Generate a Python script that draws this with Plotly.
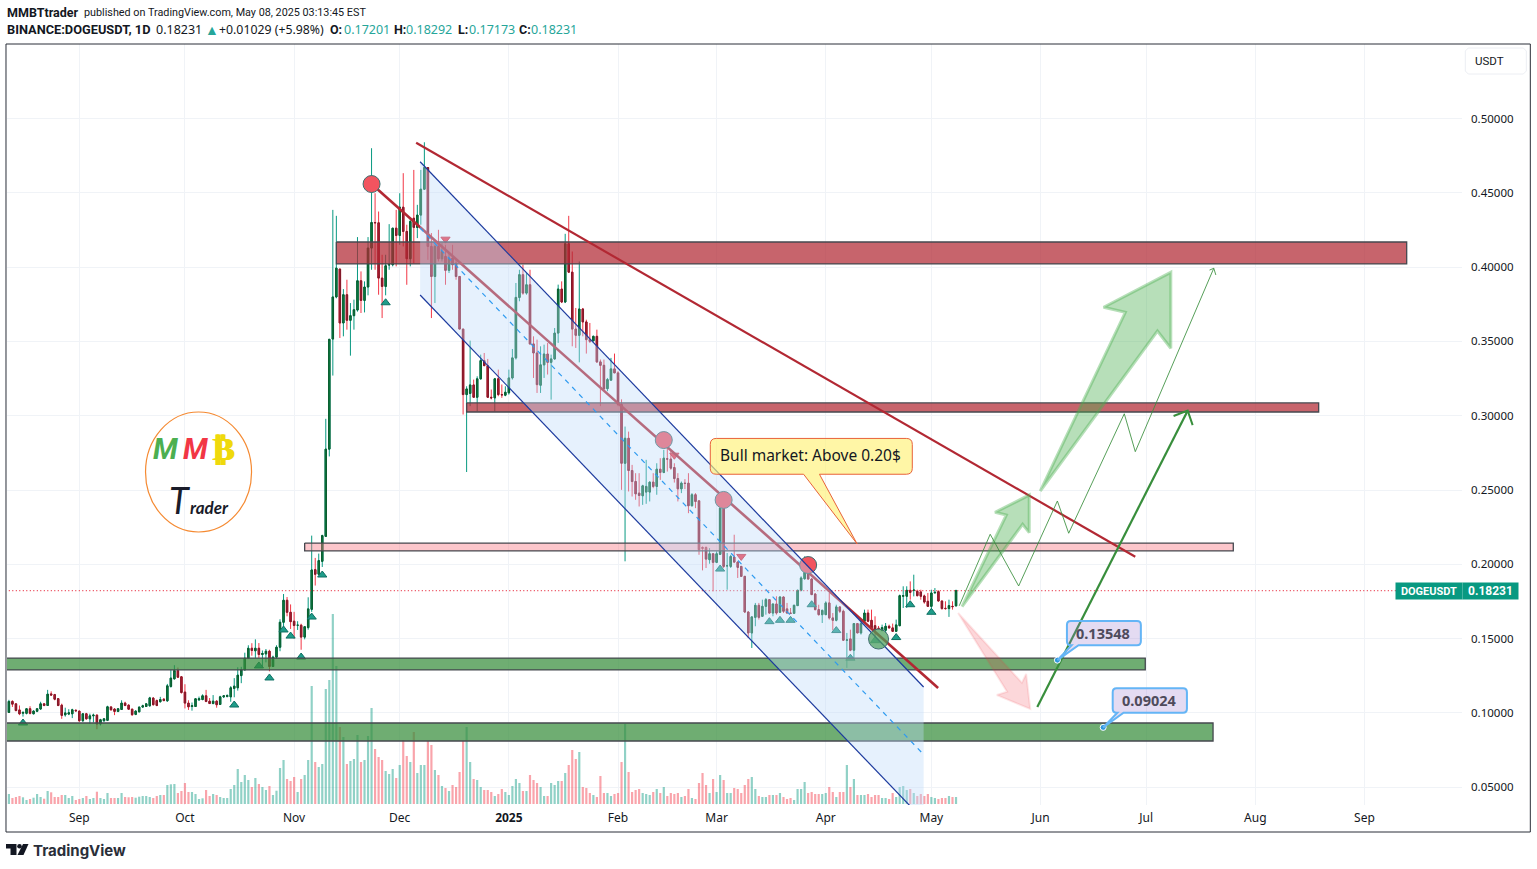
import pandas as pd
import plotly.graph_objects as go

# DOGEUSDT daily candles
start_day = '2024-08-12'
opens = [
    .1003,.1077,.1061,.1020,.0998,.0997,.1028,.0994,.1011,.1026,
    .1061,.1050,.1128,.1123,.1096,.1052,.0987,.0992,.0994,.1018,
    .1012,.0947,.0994,.0960,.0980,.0985,.0925,.0947,.0950,.1040,
    .1026,.1010,.1023,.1066,.1052,.1025,.0990,.1007,.1039,.1043,
    .1048,.1100,.1083,.1075,.1092,.1081,.1178,.1229,.1285,.1243,
    .1140,.1066,.1043,.1043,.1088,.1090,.1115,.1079,.1063,.1079,
    .1057,.1108,.1110,.1108,.1165,.1169,.1251,.1290,.1368,.1435,
    .1418,.1435,.1393,.1397,.1415,.1312,.1375,.1442,.1610,.1758,
    .1677,.1617,.1590,.1590,.1510,.1574,.1697,.1964,.1933,.2020,
    .2188,.2775,.3516,.3799,.3987,.3624,.3814,.3642,.3673,.3711,
    .3908,.3776,.3866,.4128,.4300,.4298,.3926,.3870,.4015,.4016,
    .4262,.4213,.4403,.4240,.4056,.4329,.4267,.4350,.4524,.4670,
    .4139,.3937,.4139,.4056,.4072,.3978,.4061,.4027,.3937,.3583,
    .3142,.3150,.3207,.3124,.3248,.3371,.3337,.3124,.3120,.3248,
    .3142,.3138,.3154,.3254,.3389,.3796,.3949,.3825,.3881,.3483,
    .3422,.3205,.3342,.3415,.3359,.3382,.3556,.3852,.3765,.4157,
    .3966,.3583,.3541,.3718,.3631,.3512,.3504,.3534,.3362,.3339,
    .3182,.3239,.3315,.3288,.3075,.2680,.2848,.2631,.2557,.2479,
    .2461,.2486,.2486,.2553,.2524,.2640,.2618,.2710,.2708,.2651,
    .2577,.2508,.2546,.2546,.2394,.2468,.2427,.2113,.2113,.2031,
    .2071,.2013,.2067,.2378,.1990,.1986,.2049,.2015,.1986,.1919,
    .1679,.1538,.1643,.1724,.1650,.1717,.1762,.1672,.1733,.1677,
    .1780,.1700,.1672,.1670,.1722,.1825,.1903,.1946,.1901,.1800,
    .1695,.1661,.1661,.1740,.1639,.1623,.1713,.1684,.1489,.1498,
    .1422,.1601,.1538,.1617,.1672,.1623,.1587,.1570,.1556,.1556,
    .1583,.1572,.1549,.1587,.1785,.1785,.1825,.1825,.1818,.1814,
    .1787,.1751,.1717,.1807,.1816,.1753,.1704,.1702,.1717,.17201,
]
closes = [
    .1077,.1059,.1016,.0994,.1003,.1028,.0997,.1012,.1028,.1061,
    .1050,.1126,.1120,.1092,.1050,.0983,.1000,.1001,.1021,.1014,
    .0947,.0994,.0960,.0980,.0985,.0925,.0954,.0960,.1041,.1021,
    .1010,.1028,.1066,.1050,.1025,.0988,.1012,.1039,.1048,.1061,
    .1101,.1055,.1050,.1090,.1083,.1182,.1234,.1285,.1240,.1137,
    .1066,.1041,.1048,.1095,.1095,.1115,.1077,.1063,.1079,.1055,
    .1108,.1115,.1117,.1169,.1180,.1254,.1290,.1368,.1435,.1420,
    .1435,.1393,.1400,.1415,.1312,.1375,.1442,.1610,.1758,.1677,
    .1614,.1588,.1590,.1510,.1580,.1700,.1962,.1933,.2025,.2193,
    .2775,.3514,.3799,.3993,.3624,.3814,.3642,.3673,.3713,.3908,
    .3776,.3866,.4128,.4300,.4298,.3926,.3870,.4009,.4016,.4262,
    .4213,.4403,.4240,.4056,.4307,.4267,.4350,.4524,.4670,.4139,
    .3937,.4139,.4056,.4105,.3978,.4061,.4016,.3937,.3583,.3142,
    .3180,.3207,.3124,.3248,.3371,.3337,.3124,.3120,.3248,.3142,
    .3140,.3158,.3254,.3389,.3796,.3949,.3825,.3881,.3483,.3422,
    .3209,.3342,.3415,.3359,.3382,.3556,.3852,.3765,.4157,.3966,
    .3583,.3541,.3718,.3631,.3512,.3500,.3534,.3362,.3339,.3180,
    .3243,.3315,.3288,.3075,.2680,.2848,.2631,.2557,.2474,.2463,
    .2528,.2524,.2553,.2524,.2640,.2618,.2714,.2708,.2647,.2577,
    .2508,.2546,.2544,.2394,.2468,.2423,.2098,.2108,.2035,.2071,
    .2013,.2071,.2378,.1986,.1990,.2053,.2015,.1979,.1919,.1679,
    .1538,.1646,.1724,.1643,.1717,.1762,.1672,.1733,.1672,.1780,
    .1684,.1672,.1670,.1724,.1825,.1908,.1946,.1901,.1796,.1695,
    .1661,.1690,.1740,.1639,.1623,.1713,.1684,.1489,.1491,.1422,
    .1601,.1538,.1601,.1672,.1617,.1572,.1560,.1568,.1574,.1583,
    .1572,.1549,.1592,.1789,.1789,.1825,.1811,.1826,.1789,.1785,
    .1746,.1717,.1807,.1811,.1753,.1702,.1702,.1722,.1715,.18231,
]
highs = [
    .1088,.1085,.1063,.1050,.1010,.1030,.1045,.1018,.1030,.1075,
    .1065,.1155,.1145,.1128,.1100,.1062,.1035,.1025,.1028,.1022,
    .1015,.0998,.1000,.0995,.0995,.0990,.0960,.0965,.1048,.1045,
    .1032,.1032,.1085,.1075,.1058,.1028,.1018,.1042,.1055,.1066,
    .1108,.1105,.1090,.1108,.1100,.1195,.1290,.1321,.1305,.1248,
    .1193,.1085,.1070,.1100,.1110,.1125,.1155,.1100,.1120,.1085,
    .1115,.1118,.1125,.1180,.1234,.1307,.1310,.1405,.1455,.1469,
    .1495,.1470,.1420,.1430,.1425,.1385,.1455,.1630,.1800,.1780,
    .1730,.1680,.1617,.1600,.1585,.1778,.2193,.2043,.2072,.2199,
    .2979,.3515,.4385,.4345,.3987,.3852,.3915,.3758,.3781,.4202,
    .3971,.3904,.4202,.4800,.4497,.4374,.4083,.4083,.4289,.4262,
    .4385,.4497,.4632,.4285,.4329,.4654,.4419,.4654,.4840,.4670,
    .4229,.4150,.4251,.4161,.4150,.4094,.4150,.4061,.3937,.3583,
    .3198,.3505,.3243,.3265,.3411,.3422,.3382,.3176,.3254,.3310,
    .3210,.3198,.3310,.3449,.3893,.3982,.4016,.3960,.3982,.3534,
    .3512,.3467,.3478,.3489,.3411,.3590,.3882,.3904,.4224,.4345,
    .4105,.3725,.4038,.3725,.3646,.3624,.3539,.3579,.3378,.3378,
    .3254,.3389,.3418,.3299,.3110,.2927,.2893,.2669,.2613,.2613,
    .2535,.2703,.2557,.2613,.2680,.2714,.2770,.2781,.2770,.2680,
    .2613,.2557,.2573,.2613,.2479,.2479,.2427,.2121,.2121,.2109,
    .2076,.2087,.2378,.2378,.2076,.2064,.2199,.2020,.1986,.1919,
    .1684,.1650,.1740,.1740,.1762,.1773,.1766,.1735,.1785,.1784,
    .1784,.1740,.1706,.1728,.1829,.1919,.2053,.2042,.1908,.1807,
    .1728,.1695,.1751,.1807,.1672,.1728,.1717,.1695,.1538,.1560,
    .1605,.1605,.1628,.1695,.1695,.1695,.1650,.1585,.1594,.1605,
    .1594,.1601,.1628,.1796,.1852,.1852,.1885,.1930,.1829,.1829,
    .1796,.1807,.1829,.1840,.1825,.1757,.1751,.1762,.1751,.18292,
]
lows = [
    .1000,.1040,.1010,.0985,.0975,.0990,.0990,.0990,.1005,.1020,
    .1045,.1050,.1115,.1085,.1045,.0960,.0975,.0985,.0965,.1010,
    .0940,.0940,.0955,.0925,.0935,.0890,.0915,.0940,.0945,.1015,
    .0985,.1005,.1020,.1045,.1020,.0980,.0985,.1005,.1035,.1040,
    .1042,.1050,.1045,.1070,.1078,.1075,.1170,.1225,.1235,.1130,
    .1030,.1020,.1015,.1040,.1080,.1085,.1072,.1060,.1058,.1035,
    .1055,.1100,.1105,.1075,.1105,.1150,.1200,.1285,.1365,.1385,
    .1370,.1370,.1310,.1340,.1280,.1310,.1365,.1415,.1560,.1650,
    .1565,.1500,.1558,.1425,.1495,.1560,.1680,.1857,.1930,.1982,
    .2184,.2726,.3270,.3790,.3523,.3534,.3579,.3404,.3579,.3700,
    .3691,.3695,.3810,.3982,.3982,.3814,.3657,.3810,.3982,.4005,
    .4005,.4150,.4139,.3881,.4005,.4027,.4195,.4285,.4520,.4049,
    .3657,.3758,.4038,.4038,.3881,.3960,.3982,.3915,.3583,.3008,
    .2621,.3064,.3120,.3030,.3243,.3333,.3120,.3110,.3030,.3131,
    .3120,.3131,.3142,.3243,.3378,.3770,.3814,.3814,.3478,.3254,
    .3153,.3153,.3254,.3277,.3108,.3377,.3490,.3758,.3758,.3960,
    .3467,.3456,.3359,.3534,.3418,.3489,.3500,.3355,.3064,.3176,
    .3165,.3239,.3288,.3064,.2501,.2020,.2490,.2456,.2434,.2389,
    .2400,.2407,.2423,.2512,.2468,.2568,.2613,.2624,.2636,.2550,
    .2423,.2479,.2506,.2344,.2389,.2378,.2064,.1959,.1975,.2004,
    .1818,.2008,.2064,.1975,.1829,.1975,.2008,.1908,.1919,.1672,
    .1504,.1437,.1583,.1628,.1650,.1661,.1668,.1650,.1661,.1672,
    .1672,.1668,.1668,.1668,.1721,.1818,.1896,.1896,.1796,.1690,
    .1655,.1605,.1661,.1628,.1556,.1616,.1672,.1489,.1303,.1415,
    .1359,.1538,.1527,.1610,.1610,.1560,.1493,.1560,.1549,.1538,
    .1567,.1545,.1545,.1583,.1706,.1706,.1762,.1784,.1784,.1762,
    .1735,.1713,.1672,.1807,.1749,.1695,.1695,.1646,.1695,.17173,
]
# volume in billions of DOGE
volumes = [
    1.0,.6,.7,.8,.67,.4,.5,.63,1.0,.7,
    .53,1.3,1.17,.7,.7,.9,.9,.6,.8,.4,
    .5,.6,.8,.5,.6,1.23,.6,.5,1.1,.6,
    .6,.6,1.1,.7,.67,.7,.63,.73,.8,.8,
    .7,.6,.8,.9,.9,1.9,1.97,2.0,1.1,1.3,
    2.1,1.2,1.2,1.0,.5,.57,1.4,.8,1.0,.9,
    .7,.6,.6,1.5,1.9,3.5,2.2,2.9,2.4,1.7,
    2.6,2.0,1.7,1.4,1.8,.9,1.33,3.6,4.4,2.5,
    2.3,2.7,1.2,2.5,2.9,4.4,11.8,4.2,3.7,4.0,
    11.5,12.4,19.0,13.8,7.7,6.7,4.0,4.3,4.5,6.9,
    4.2,4.4,6.8,9.6,5.5,4.7,4.4,3.3,3.0,3.5,
    2.6,3.9,6.4,4.8,4.2,7.2,3.1,3.9,3.9,6.3,
    5.9,3.4,2.9,1.8,1.6,1.3,1.9,1.7,3.2,6.3,
    7.7,4.2,2.5,2.4,1.7,1.4,1.4,1.2,.8,1.0,
    1.5,1.2,.9,1.8,2.5,2.1,1.3,1.3,2.9,2.4,
    2.1,1.7,.8,.8,2.1,1.9,2.3,2.3,3.1,3.9,
    5.4,4.5,5.2,1.7,1.6,1.1,.9,.7,2.8,1.1,
    1.1,.8,1.0,1.1,4.2,8.0,3.2,1.2,1.4,1.5,
    1.1,1.0,.9,1.2,1.5,1.1,1.7,.8,1.1,1.0,
    1.1,.7,.8,1.5,.6,.5,2.1,3.1,1.9,1.1,
    2.5,1.2,2.9,2.4,1.1,1.1,1.6,1.5,1.1,1.9,
    2.5,2.7,1.5,.8,.7,.7,.9,.9,.9,1.1,
    .7,.5,.6,.4,1.5,1.5,2.2,1.1,1.2,1.0,
    1.0,1.0,1.1,1.7,1.2,.7,1.2,1.2,3.9,1.7,
    2.5,.9,.9,.9,1.0,.7,.9,.9,.6,.6,
    .5,1.1,.7,1.7,1.8,1.4,1.5,1.1,.8,1.0,
    .8,1.0,.7,.6,.5,.6,.6,.8,.7,.7,
]

# signal markers
signal_up_dates = ['2024-08-16','2024-10-15','2024-10-22','2024-10-25','2024-10-29','2024-10-31',
                   '2024-11-03','2024-11-06','2024-11-09','2024-11-27','2025-03-02','2025-03-16',
                   '2025-03-19','2025-03-22','2025-03-28','2025-04-04','2025-04-08','2025-04-15',
                   '2025-04-21','2025-04-25','2025-05-01']
signal_up_prices = [.0932,.1053,.1316,.1235,.1558,.1517,.1376,.1645,.1928,.3760,.1968,.1614,
                    .1623,.1623,.1728,.1554,.1368,.1486,.1507,.1728,.1677]
signal_down_dates = ['2024-12-14','2025-02-17','2025-03-08']
signal_down_prices = [.4188,.2734,.2053]

# circled touch points on the falling trend
touch_dates = ['2024-11-23','2025-02-14','2025-03-03','2025-03-27']
touch_prices = [.4559,.2836,.2433,.1995]
breakout_date = ['2025-04-16']
breakout_price = [.1497]

# horizontal zones: start, end, top, bottom
red_zone_a = ['2024-11-13','2025-09-13',.4169,.4021]
red_zone_b = ['2024-12-20','2025-08-19',.3086,.3025]
pink_zone = ['2024-11-04','2025-07-25 18:00',.2143,.2090]
green_zone_a = ['2024-08-01','2025-06-30 18:00',.1369,.1289]
green_zone_b = ['2024-08-01','2025-07-20',.0932,.0811]

# falling channel
channel_top_dates = ['2024-12-06 19:00','2025-04-28 19:00']
channel_top_prices = [.4709,.1174]
channel_mid_prices = [.4263,.0720]
channel_low_prices = [.3812,.0279]

# trend lines
trend_outer_dates = ['2024-12-05 16:00','2025-06-27 22:00']
trend_outer_prices = [.4837,.2051]
trend_inner_dates = ['2024-11-23','2025-05-02 22:00']
trend_inner_prices = [.4559,.1168]

# projected path and arrows
path_dates = ['2025-05-08 22:00','2025-05-17 17:00','2025-05-25 19:00','2025-06-05 19:00',
              '2025-06-09','2025-06-24 19:00','2025-06-27 22:00','2025-07-20 05:00']
path_prices = [.1721,.2202,.1854,.2426,.2209,.3013,.2758,.3992]
path_head_dates = ['2025-07-19','2025-07-20 05:00','2025-07-20 19:00']
path_head_prices = [.3980,.3992,.3947]
up_line_dates = ['2025-05-31 02:00','2025-07-12 19:00']
up_line_prices = [.1040,.3034]
up_head_dates = ['2025-07-08 19:00','2025-07-12 19:00','2025-07-14 05:00']
up_head_prices = [.2998,.3034,.2937]
small_arrow_dates = ['2025-05-09 17:00','2025-05-22 07:00','2025-05-19 02:00','2025-05-28 19:00',
                     '2025-05-28 19:00','2025-05-26 22:00','2025-05-09 17:00']
small_arrow_prices = [.1715,.2332,.2350,.2466,.2213,.2269,.1715]
big_arrow_dates = ['2025-05-31 22:00','2025-06-25 02:00','2025-06-18 22:00','2025-07-08',
                   '2025-07-08','2025-07-04 05:00','2025-05-31 22:00']
big_arrow_prices = [.2493,.3696,.3730,.3965,.3454,.3570,.2493]
down_arrow_dates = ['2025-05-08 14:00','2025-05-26 17:00','2025-05-27 22:00','2025-05-29 02:00',
                    '2025-05-19 14:00','2025-05-22 12:00','2025-05-08 14:00']
down_arrow_prices = [.1672,.1203,.1262,.1026,.1120,.1143,.1672]

# price labels
label_values = [.13548,.09024]
label_dates = ['2025-06-05 19:00','2025-06-18 19:00']

month_ticks = ['2024-09-01','2024-10-01','2024-11-01','2024-12-01','2025-01-01','2025-02-01','2025-03-01',
               '2025-04-01','2025-05-01','2025-06-01','2025-07-01','2025-08-01','2025-09-01']
month_labels = ['Sep','Oct','Nov','Dec','<b>2025</b>','Feb','Mar','Apr','May','Jun','Jul','Aug','Sep']
price_ticks = [.05,.10,.15,.20,.25,.30,.35,.40,.45,.50]

FONT = 'Noto Sans'
HEAD = 'Roboto'
TEXT = '#131722'
TEAL = '#089981'
UP_BODY = '#0b8648'
UP_EDGE = '#0b5c2e'
DOWN_BODY = '#cc1a30'
DOWN_EDGE = '#7d1a2a'

# page position of the chart pane, used only for header text and frame
PANE_L, PANE_R, PANE_T, PANE_B = 7, 1461.7, 44, 805

def px(x):
    return (x - PANE_L) / (PANE_R - PANE_L)

def py(y):
    return (PANE_B - y) / (PANE_B - PANE_T)

days = pd.date_range(start_day, periods=len(closes), freq='D')
fig = go.Figure()

# volume sits on the lower overlay so the drawings stay on top of it
fig.add_trace(go.Bar(x=days, y=volumes, width=0.62 * 86400000, yaxis='y',
                     marker=dict(color=['rgba(8,153,129,0.45)' if c >= o else 'rgba(242,54,69,0.45)'
                                        for o, c in zip(opens, closes)], line=dict(width=0))))

# wicks first, then bodies with their darker border
fig.add_trace(go.Candlestick(x=days, open=opens, high=highs, low=lows, close=closes, yaxis='y2',
                             increasing=dict(line=dict(color=TEAL, width=1), fillcolor=UP_BODY),
                             decreasing=dict(line=dict(color='#f23645', width=1), fillcolor=DOWN_BODY),
                             whiskerwidth=0))
body_top = [max(o, c) for o, c in zip(opens, closes)]
body_low = [min(o, c) for o, c in zip(opens, closes)]
fig.add_trace(go.Candlestick(x=days, open=opens, high=body_top, low=body_low, close=closes, yaxis='y2',
                             increasing=dict(line=dict(color=UP_EDGE, width=1), fillcolor=UP_BODY),
                             decreasing=dict(line=dict(color=DOWN_EDGE, width=1), fillcolor=DOWN_BODY),
                             whiskerwidth=0))

def line(x, y, color, width=1, dash='solid'):
    fig.add_trace(go.Scatter(x=x, y=y, mode='lines', yaxis='y2', hoverinfo='skip',
                             line=dict(color=color, width=width, dash=dash)))

def polygon(x, y, fill, edge, width=1):
    fig.add_trace(go.Scatter(x=x, y=y, mode='lines', yaxis='y2', fill='toself', fillcolor=fill,
                             hoverinfo='skip', line=dict(color=edge, width=width)))

def zone(z, fill, edge='#45484f', width=1.3):
    x0, x1, top, low = z
    polygon([x0, x1, x1, x0, x0], [top, top, low, low, top], fill, edge, width)

fig.add_trace(go.Scatter(x=signal_up_dates, y=signal_up_prices, mode='markers', yaxis='y2',
                         marker=dict(symbol='triangle-up', size=8, color='#1f9d8a',
                                     line=dict(color='#0e6f62', width=1))))
fig.add_trace(go.Scatter(x=signal_down_dates, y=signal_down_prices, mode='markers', yaxis='y2',
                         marker=dict(symbol='triangle-down', size=8, color='#f23645',
                                     line=dict(color='#d02a3a', width=1))))

last_price = closes[-1]
line([days[0] - pd.Timedelta(days=5), '2025-10-10'], [last_price, last_price], '#e8394a', 1.2, '1px,2.5px')

zone(red_zone_a, 'rgba(178,40,51,0.72)')
zone(red_zone_b, 'rgba(178,40,51,0.72)')
zone(pink_zone, 'rgba(247,120,130,0.42)')
zone(green_zone_a, 'rgba(56,142,60,0.72)')
zone(green_zone_b, 'rgba(56,142,60,0.72)')

# the inner trend and touch circles sit under the channel fill
line(trend_inner_dates, trend_inner_prices, '#b22833', 2.6)
fig.add_trace(go.Scatter(x=touch_dates, y=touch_prices, mode='markers', yaxis='y2',
                         marker=dict(symbol='circle', size=17, color='#f2545f',
                                     line=dict(color='#3f6f70', width=1))))

channel_dates = channel_top_dates + channel_top_dates[::-1] + channel_top_dates[:1]
channel_prices = channel_top_prices + channel_low_prices[::-1] + channel_top_prices[:1]
fig.add_trace(go.Scatter(x=channel_dates, y=channel_prices, mode='lines', yaxis='y2', fill='toself',
                         fillcolor='rgba(189,218,250,0.38)', line=dict(width=0), hoverinfo='skip'))
line(channel_top_dates, channel_top_prices, '#1c3a9e', 1.2)
line(channel_top_dates, channel_low_prices, '#1c3a9e', 1.2)
line(channel_top_dates, channel_mid_prices, '#2f9bf0', 1.2, '5px,5px')

line(trend_outer_dates, trend_outer_prices, '#b22833', 2.2)

fig.add_trace(go.Scatter(x=breakout_date, y=breakout_price, mode='markers', yaxis='y2',
                         marker=dict(symbol='circle', size=20, color='rgba(76,160,90,0.72)',
                                     line=dict(color='#3f6f70', width=1))))

polygon(small_arrow_dates, small_arrow_prices, 'rgba(76,175,80,0.4)', 'rgba(76,175,80,0.4)', 3)
polygon(big_arrow_dates, big_arrow_prices, 'rgba(76,175,80,0.4)', 'rgba(76,175,80,0.4)', 3)
polygon(down_arrow_dates, down_arrow_prices, 'rgba(242,54,69,0.2)', 'rgba(242,54,69,0.12)', 2)
line(path_dates, path_prices, 'rgba(56,142,60,0.85)', 1)
line(path_head_dates, path_head_prices, 'rgba(56,142,60,0.85)', 1)
line(up_line_dates, up_line_prices, '#388e3c', 2.2)
line(up_head_dates, up_head_prices, '#388e3c', 2)

fig.add_trace(go.Scatter(x=label_dates, y=label_values, mode='markers', yaxis='y2',
                         marker=dict(symbol='circle', size=6, color='#2f97dc',
                                     line=dict(color='white', width=1))))

def stamp(t):
    return pd.Timestamp(t).strftime('%Y-%m-%d_%H:%M')

def callout_path(left, right, top, low, base0, base1, tip_x, tip_y, r_days, r_price):
    left, right = pd.Timestamp(left), pd.Timestamp(right)
    r = pd.Timedelta(days=r_days)
    return ' '.join([
        f'M {stamp(left + r)} {top}',
        f'L {stamp(right - r)} {top}',
        f'Q {stamp(right)} {top} {stamp(right)} {top - r_price}',
        f'L {stamp(right)} {low + r_price}',
        f'Q {stamp(right)} {low} {stamp(right - r)} {low}',
        f'L {stamp(base1)} {low}',
        f'L {stamp(tip_x)} {tip_y}',
        f'L {stamp(base0)} {low}',
        f'L {stamp(left + r)} {low}',
        f'Q {stamp(left)} {low} {stamp(left)} {low + r_price}',
        f'L {stamp(left)} {top - r_price}',
        f'Q {stamp(left)} {top} {stamp(left + r)} {top}',
        'Z',
    ])

fig.add_shape(type='path', xref='x', yref='y2', fillcolor='rgba(255,241,118,0.65)',
              line=dict(color='#e8623a', width=1),
              path=callout_path('2025-02-27 05:00', '2025-04-25 14:00', .2847, .2606,
                                '2025-03-25 17:00', '2025-03-30 05:00', '2025-04-09 22:00', .2137, 1.7, .004))
fig.add_shape(type='path', xref='x', yref='y2', fillcolor='rgba(149,117,205,0.26)',
              line=dict(color='#64b5f6', width=2),
              path=callout_path('2025-06-08 12:00', '2025-06-29 12:00', .1618, .1455,
                                '2025-06-09 20:00', '2025-06-11 19:00', label_dates[0], label_values[0], 1.1, .0027))
fig.add_shape(type='path', xref='x', yref='y2', fillcolor='rgba(149,117,205,0.26)',
              line=dict(color='#64b5f6', width=2),
              path=callout_path('2025-06-21 12:00', '2025-07-12 14:00', .1166, .1001,
                                '2025-06-22 20:00', '2025-06-24 14:00', label_dates[1], label_values[1], 1.1, .0027))

def note(x, y, text, size=12, color=TEXT, family=FONT, xanchor='center', **kw):
    fig.add_annotation(xref='paper', yref='paper', x=px(x), y=py(y), text=text, showarrow=False,
                       font=dict(size=size, color=color, family=family), xanchor=xanchor,
                       yanchor='middle', **kw)

def drawn_text(date, price, text, size, color):
    fig.add_annotation(xref='x', yref='y2', x=date, y=price, text=text, showarrow=False,
                       font=dict(size=size, color=color, family=FONT))

drawn_text('2025-03-27 18:00', .2733, 'Bull market: Above 0.20$', 15.5, TEXT)
drawn_text('2025-06-18 20:00', .1537, f'<b>{label_values[0]:.5f}</b>', 14.5, '#4f4b5c')
drawn_text('2025-07-02', .1084, f'<b>{label_values[1]:.5f}</b>', 14.5, '#4f4b5c')

# header lines: each piece placed by hand because the spacing is uneven
note(5, 12.5, '<b>MMBTtrader</b>', 12.5, family=HEAD, xanchor='left')
note(82, 12.5, 'published on TradingView.com, May 08, 2025 03:13:45 EST', 10.8, family=HEAD, xanchor='left')
note(5, 29.5, '<b>BINANCE:DOGEUSDT, 1D</b>', 12.8, family=HEAD, xanchor='left')
note(154, 29.5, '0.18231', 12.5, xanchor='left')
note(203, 29.5, '▲', 14, '#26a69a', xanchor='left')
note(217, 29.5, '+0.01029 (+5.98%)', 12.3, xanchor='left')
note(328, 29.5, '<b>O:</b>', 12.5, family=HEAD, xanchor='left')
note(342, 29.5, '0.17201', 12.5, '#26a69a', xanchor='left')
note(392, 29.5, '<b>H:</b>', 12.5, family=HEAD, xanchor='left')
note(404, 29.5, '0.18292', 12.5, '#26a69a', xanchor='left')
note(456, 29.5, '<b>L:</b>', 12.5, family=HEAD, xanchor='left')
note(467, 29.5, '0.17173', 12.5, '#26a69a', xanchor='left')
note(517, 29.5, '<b>C:</b>', 12.5, family=HEAD, xanchor='left')
note(529, 29.5, '0.18231', 12.5, '#26a69a', xanchor='left')

# publisher badge
fig.add_shape(type='circle', xref='paper', yref='paper', x0=px(145.5), x1=px(251.5), y0=py(532), y1=py(412),
              line=dict(color='#f58a32', width=1.2))
note(165.5, 449, '<b><i>M</i></b>', 29, '#4caf50', 'Roboto')
note(195, 449, '<b><i>M</i></b>', 29, '#f23645', 'Roboto')
fig.add_annotation(xref='paper', yref='paper', x=px(223.5), y=py(449), text='<b>₿</b>', showarrow=False,
                   xanchor='center', yanchor='middle',
                   font=dict(size=32, color='#efd90c', family='DejaVu Sans',
                             shadow='1px 0 0 #efd90c, -1px 0 0 #efd90c'))
note(179, 500, '<i>T</i>', 36, '#1a1c2a', 'Lato')
note(209.5, 507, '<b><i>rader</i></b>', 17, '#1a1c2a', 'Lato')

# price scale tags
tag = dict(xref='paper', yref='y2', y=last_price, showarrow=False, bgcolor=TEAL, borderpad=0, height=16, xanchor='center')
fig.add_annotation(x=px(1429), text='<b>DOGEUSDT</b>', width=66, font=dict(size=11, color='white', family=HEAD), **tag)
fig.add_annotation(x=px(1490.5), text='<b>0.18231</b>', width=55, font=dict(size=12, color='white', family=HEAD), **tag)

def mark(points):
    return 'M ' + ' L '.join(f'{px(x)} {py(y)}' for x, y in points) + ' Z'

# currency box, corners cut to look rounded
fig.add_shape(type='path', xref='paper', yref='paper', fillcolor='white', line=dict(color='#eceef3', width=1),
              path=mark([(1468, 48), (1523, 48), (1526, 51), (1526, 71), (1523, 74), (1468, 74), (1465, 71), (1465, 51)]))
note(1473, 61, 'USDT', 11.5, family=HEAD, xanchor='left')

# outer frame and TradingView mark
fig.add_shape(type='rect', xref='paper', yref='paper', x0=px(6), x1=px(1530), y0=py(832), y1=py(44),
              line=dict(color='#2a2e39', width=1))
fig.add_shape(type='path', xref='paper', yref='paper', fillcolor=TEXT, line=dict(width=0),
              path=mark([(6, 844), (16.5, 844), (16.5, 855), (10.5, 855), (10.5, 848.5), (6, 848.5)]))
fig.add_shape(type='path', xref='paper', yref='paper', fillcolor=TEXT, line=dict(width=0),
              path=mark([(23, 844), (28.5, 844), (23.5, 855), (17.5, 855)]))
fig.add_shape(type='circle', xref='paper', yref='paper', fillcolor=TEXT, line=dict(width=0),
              x0=px(17.2), x1=px(21.8), y0=py(848.6), y1=py(844))
note(31, 850, '<b>TradingView</b>', 15, '#2a2e39', 'Inter', xanchor='left')

fig.update_layout(
    width=1537, height=869, template='plotly_white', showlegend=False, plot_bgcolor='white', paper_bgcolor='white',
    margin=dict(l=7, r=1537 - 1461.7, t=44, b=869 - 805, pad=0), boxmode='overlay', boxgap=0.42,
    font=dict(family=FONT, size=12, color=TEXT),
    xaxis=dict(type='date', range=['2024-08-11 11:00', '2025-09-28 17:00'], tickvals=month_ticks, ticktext=month_labels,
               gridcolor='#f0f3f7', gridwidth=1, showline=False, zeroline=False, ticks='', ticklabelstandoff=4,
               rangeslider=dict(visible=False), tickfont=dict(size=12, color=TEXT, family=FONT)),
    yaxis=dict(range=[-0.1, 76], visible=False, showgrid=False, zeroline=False),
    yaxis2=dict(overlaying='y', side='right', range=[.03802, .55013], tickvals=price_ticks, tickformat='.5f',
                gridcolor='#f0f3f7', gridwidth=1, showline=False, zeroline=False, ticks='', ticklabelstandoff=8,
                tickfont=dict(size=11.5, color=TEXT, family=FONT)),
)

fig.write_html('out.html', config=dict(displayModeBar=False),
               post_script="document.body.style.margin='0';")
